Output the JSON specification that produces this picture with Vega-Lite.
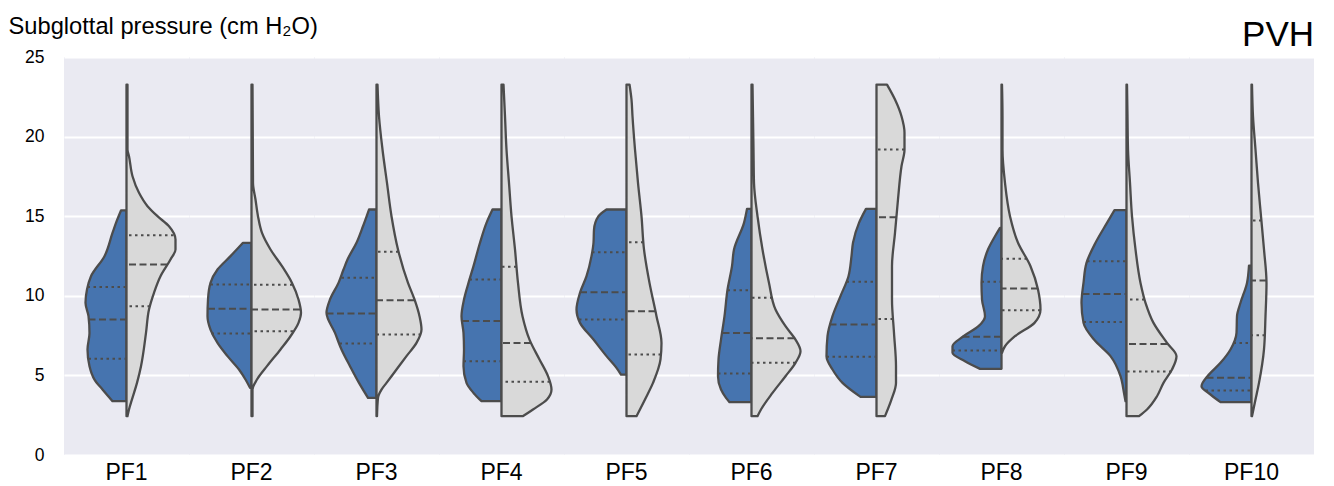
{
  "$schema": "https://vega.github.io/schema/vega-lite/v6.json",
  "padding": {"left": 8, "top": 14, "right": 17, "bottom": 5},
  "title": {"text": "PVH", "anchor": "end", "fontSize": 35, "fontWeight": "normal", "font": "Liberation Sans", "color": "black", "offset": -39},
  "data": {"values": [
    {"k":"o","pf":"PF1","s":"L","v":3.38,"w":0.28},{"k":"o","pf":"PF1","s":"L","v":4.11,"w":0.48},{"k":"o","pf":"PF1","s":"L","v":4.74,"w":0.64},{"k":"o","pf":"PF1","s":"L","v":5.58,"w":0.74},{"k":"o","pf":"PF1","s":"L","v":6.63,"w":0.78},{"k":"o","pf":"PF1","s":"L","v":7.67,"w":0.74},{"k":"o","pf":"PF1","s":"L","v":8.72,"w":0.76},{"k":"o","pf":"PF1","s":"L","v":9.56,"w":0.82},{"k":"o","pf":"PF1","s":"L","v":10.39,"w":0.79},{"k":"o","pf":"PF1","s":"L","v":11.23,"w":0.71},{"k":"o","pf":"PF1","s":"L","v":12.49,"w":0.44},{"k":"o","pf":"PF1","s":"L","v":13.95,"w":0.28},{"k":"o","pf":"PF1","s":"L","v":14.58,"w":0.21},{"k":"o","pf":"PF1","s":"L","v":15.36,"w":0.11},
    {"k":"o","pf":"PF1","s":"R","v":2.44,"w":0.02},{"k":"o","pf":"PF1","s":"R","v":2.86,"w":0.05},{"k":"o","pf":"PF1","s":"R","v":3.49,"w":0.11},{"k":"o","pf":"PF1","s":"R","v":4.53,"w":0.21},{"k":"o","pf":"PF1","s":"R","v":5.58,"w":0.29},{"k":"o","pf":"PF1","s":"R","v":7.67,"w":0.39},{"k":"o","pf":"PF1","s":"R","v":9.14,"w":0.45},{"k":"o","pf":"PF1","s":"R","v":10.19,"w":0.55},{"k":"o","pf":"PF1","s":"R","v":11.23,"w":0.68},{"k":"o","pf":"PF1","s":"R","v":12.28,"w":0.88},{"k":"o","pf":"PF1","s":"R","v":12.91,"w":0.98},{"k":"o","pf":"PF1","s":"R","v":13.54,"w":0.98},{"k":"o","pf":"PF1","s":"R","v":14.37,"w":0.85},{"k":"o","pf":"PF1","s":"R","v":15.0,"w":0.62},{"k":"o","pf":"PF1","s":"R","v":15.63,"w":0.42},{"k":"o","pf":"PF1","s":"R","v":16.47,"w":0.25},{"k":"o","pf":"PF1","s":"R","v":17.51,"w":0.12},{"k":"o","pf":"PF1","s":"R","v":18.77,"w":0.05},{"k":"o","pf":"PF1","s":"R","v":19.19,"w":0.02},{"k":"o","pf":"PF1","s":"R","v":23.27,"w":0.02},
    {"k":"q","pf":"PF1","s":"L","v":10.56,"w":0.78},{"k":"m","pf":"PF1","s":"L","v":8.51,"w":0.76},{"k":"q","pf":"PF1","s":"L","v":6.04,"w":0.76},
    {"k":"q","pf":"PF1","s":"R","v":13.81,"w":0.94},{"k":"m","pf":"PF1","s":"R","v":11.97,"w":0.82},{"k":"q","pf":"PF1","s":"R","v":9.35,"w":0.47},

    {"k":"o","pf":"PF2","s":"L","v":4.22,"w":0.03},{"k":"o","pf":"PF2","s":"L","v":4.74,"w":0.12},{"k":"o","pf":"PF2","s":"L","v":5.37,"w":0.25},{"k":"o","pf":"PF2","s":"L","v":6.21,"w":0.48},{"k":"o","pf":"PF2","s":"L","v":7.04,"w":0.68},{"k":"o","pf":"PF2","s":"L","v":7.88,"w":0.82},{"k":"o","pf":"PF2","s":"L","v":8.72,"w":0.88},{"k":"o","pf":"PF2","s":"L","v":9.77,"w":0.87},{"k":"o","pf":"PF2","s":"L","v":10.81,"w":0.82},{"k":"o","pf":"PF2","s":"L","v":11.65,"w":0.68},{"k":"o","pf":"PF2","s":"L","v":12.49,"w":0.42},{"k":"o","pf":"PF2","s":"L","v":13.33,"w":0.17},
    {"k":"o","pf":"PF2","s":"R","v":2.44,"w":0.02},{"k":"o","pf":"PF2","s":"R","v":4.11,"w":0.02},{"k":"o","pf":"PF2","s":"R","v":4.74,"w":0.11},{"k":"o","pf":"PF2","s":"R","v":5.58,"w":0.31},{"k":"o","pf":"PF2","s":"R","v":6.63,"w":0.58},{"k":"o","pf":"PF2","s":"R","v":7.46,"w":0.78},{"k":"o","pf":"PF2","s":"R","v":8.3,"w":0.94},{"k":"o","pf":"PF2","s":"R","v":8.93,"w":0.99},{"k":"o","pf":"PF2","s":"R","v":9.77,"w":0.94},{"k":"o","pf":"PF2","s":"R","v":10.81,"w":0.81},{"k":"o","pf":"PF2","s":"R","v":11.86,"w":0.61},{"k":"o","pf":"PF2","s":"R","v":12.91,"w":0.38},{"k":"o","pf":"PF2","s":"R","v":13.95,"w":0.21},{"k":"o","pf":"PF2","s":"R","v":15.0,"w":0.13},{"k":"o","pf":"PF2","s":"R","v":16.05,"w":0.08},{"k":"o","pf":"PF2","s":"R","v":17.09,"w":0.03},{"k":"o","pf":"PF2","s":"R","v":23.27,"w":0.02},
    {"k":"q","pf":"PF2","s":"L","v":10.71,"w":0.82},{"k":"m","pf":"PF2","s":"L","v":9.18,"w":0.87},{"k":"q","pf":"PF2","s":"L","v":7.63,"w":0.8},
    {"k":"q","pf":"PF2","s":"R","v":10.69,"w":0.82},{"k":"m","pf":"PF2","s":"R","v":9.14,"w":0.97},{"k":"q","pf":"PF2","s":"R","v":7.78,"w":0.83},

    {"k":"o","pf":"PF3","s":"L","v":3.59,"w":0.17},{"k":"o","pf":"PF3","s":"L","v":4.53,"w":0.35},{"k":"o","pf":"PF3","s":"L","v":5.58,"w":0.53},{"k":"o","pf":"PF3","s":"L","v":6.63,"w":0.7},{"k":"o","pf":"PF3","s":"L","v":7.67,"w":0.83},{"k":"o","pf":"PF3","s":"L","v":8.93,"w":1.0},{"k":"o","pf":"PF3","s":"L","v":9.77,"w":0.93},{"k":"o","pf":"PF3","s":"L","v":10.81,"w":0.76},{"k":"o","pf":"PF3","s":"L","v":11.65,"w":0.66},{"k":"o","pf":"PF3","s":"L","v":12.28,"w":0.58},{"k":"o","pf":"PF3","s":"L","v":13.33,"w":0.4},{"k":"o","pf":"PF3","s":"L","v":14.37,"w":0.27},{"k":"o","pf":"PF3","s":"L","v":15.42,"w":0.15},
    {"k":"o","pf":"PF3","s":"R","v":2.44,"w":0.01},{"k":"o","pf":"PF3","s":"R","v":3.59,"w":0.03},{"k":"o","pf":"PF3","s":"R","v":4.11,"w":0.1},{"k":"o","pf":"PF3","s":"R","v":4.53,"w":0.2},{"k":"o","pf":"PF3","s":"R","v":5.37,"w":0.4},{"k":"o","pf":"PF3","s":"R","v":6.21,"w":0.6},{"k":"o","pf":"PF3","s":"R","v":7.04,"w":0.8},{"k":"o","pf":"PF3","s":"R","v":7.88,"w":0.9},{"k":"o","pf":"PF3","s":"R","v":8.72,"w":0.86},{"k":"o","pf":"PF3","s":"R","v":9.77,"w":0.76},{"k":"o","pf":"PF3","s":"R","v":10.81,"w":0.63},{"k":"o","pf":"PF3","s":"R","v":12.91,"w":0.43},{"k":"o","pf":"PF3","s":"R","v":15.0,"w":0.3},{"k":"o","pf":"PF3","s":"R","v":17.09,"w":0.21},{"k":"o","pf":"PF3","s":"R","v":19.19,"w":0.12},{"k":"o","pf":"PF3","s":"R","v":21.28,"w":0.05},{"k":"o","pf":"PF3","s":"R","v":23.27,"w":0.02},
    {"k":"q","pf":"PF3","s":"L","v":11.13,"w":0.7},{"k":"m","pf":"PF3","s":"L","v":8.89,"w":1.0},{"k":"q","pf":"PF3","s":"L","v":7.0,"w":0.74},
    {"k":"q","pf":"PF3","s":"R","v":12.76,"w":0.44},{"k":"m","pf":"PF3","s":"R","v":9.72,"w":0.76},{"k":"q","pf":"PF3","s":"R","v":7.57,"w":0.89},

    {"k":"o","pf":"PF4","s":"L","v":3.38,"w":0.4},{"k":"o","pf":"PF4","s":"L","v":3.9,"w":0.56},{"k":"o","pf":"PF4","s":"L","v":4.53,"w":0.7},{"k":"o","pf":"PF4","s":"L","v":5.58,"w":0.76},{"k":"o","pf":"PF4","s":"L","v":6.63,"w":0.75},{"k":"o","pf":"PF4","s":"L","v":7.67,"w":0.76},{"k":"o","pf":"PF4","s":"L","v":8.72,"w":0.8},{"k":"o","pf":"PF4","s":"L","v":9.77,"w":0.75},{"k":"o","pf":"PF4","s":"L","v":10.81,"w":0.66},{"k":"o","pf":"PF4","s":"L","v":11.86,"w":0.56},{"k":"o","pf":"PF4","s":"L","v":13.33,"w":0.43},{"k":"o","pf":"PF4","s":"L","v":14.58,"w":0.3},{"k":"o","pf":"PF4","s":"L","v":15.42,"w":0.18},
    {"k":"o","pf":"PF4","s":"R","v":2.44,"w":0.43},{"k":"o","pf":"PF4","s":"R","v":2.86,"w":0.63},{"k":"o","pf":"PF4","s":"R","v":3.49,"w":0.91},{"k":"o","pf":"PF4","s":"R","v":4.11,"w":1.0},{"k":"o","pf":"PF4","s":"R","v":4.95,"w":0.93},{"k":"o","pf":"PF4","s":"R","v":6.0,"w":0.76},{"k":"o","pf":"PF4","s":"R","v":7.25,"w":0.56},{"k":"o","pf":"PF4","s":"R","v":8.72,"w":0.42},{"k":"o","pf":"PF4","s":"R","v":10.81,"w":0.33},{"k":"o","pf":"PF4","s":"R","v":12.91,"w":0.27},{"k":"o","pf":"PF4","s":"R","v":15.0,"w":0.2},{"k":"o","pf":"PF4","s":"R","v":17.09,"w":0.15},{"k":"o","pf":"PF4","s":"R","v":19.19,"w":0.1},{"k":"o","pf":"PF4","s":"R","v":21.28,"w":0.07},{"k":"o","pf":"PF4","s":"R","v":23.27,"w":0.04},
    {"k":"q","pf":"PF4","s":"L","v":11.02,"w":0.64},{"k":"m","pf":"PF4","s":"L","v":8.41,"w":0.79},{"k":"q","pf":"PF4","s":"L","v":5.89,"w":0.76},
    {"k":"q","pf":"PF4","s":"R","v":11.82,"w":0.3},{"k":"m","pf":"PF4","s":"R","v":7.04,"w":0.59},{"k":"q","pf":"PF4","s":"R","v":4.6,"w":0.97},

    {"k":"o","pf":"PF5","s":"L","v":5.05,"w":0.11},{"k":"o","pf":"PF5","s":"L","v":5.47,"w":0.2},{"k":"o","pf":"PF5","s":"L","v":6.21,"w":0.4},{"k":"o","pf":"PF5","s":"L","v":7.25,"w":0.66},{"k":"o","pf":"PF5","s":"L","v":8.3,"w":0.93},{"k":"o","pf":"PF5","s":"L","v":9.14,"w":1.0},{"k":"o","pf":"PF5","s":"L","v":10.19,"w":0.93},{"k":"o","pf":"PF5","s":"L","v":11.23,"w":0.8},{"k":"o","pf":"PF5","s":"L","v":12.49,"w":0.7},{"k":"o","pf":"PF5","s":"L","v":13.33,"w":0.66},{"k":"o","pf":"PF5","s":"L","v":14.16,"w":0.65},{"k":"o","pf":"PF5","s":"L","v":15.0,"w":0.56},{"k":"o","pf":"PF5","s":"L","v":15.42,"w":0.4},
    {"k":"o","pf":"PF5","s":"R","v":2.44,"w":0.2},{"k":"o","pf":"PF5","s":"R","v":3.49,"w":0.37},{"k":"o","pf":"PF5","s":"R","v":4.53,"w":0.53},{"k":"o","pf":"PF5","s":"R","v":6.0,"w":0.68},{"k":"o","pf":"PF5","s":"R","v":7.04,"w":0.7},{"k":"o","pf":"PF5","s":"R","v":8.72,"w":0.6},{"k":"o","pf":"PF5","s":"R","v":10.81,"w":0.46},{"k":"o","pf":"PF5","s":"R","v":12.91,"w":0.35},{"k":"o","pf":"PF5","s":"R","v":15.0,"w":0.3},{"k":"o","pf":"PF5","s":"R","v":17.09,"w":0.23},{"k":"o","pf":"PF5","s":"R","v":19.19,"w":0.17},{"k":"o","pf":"PF5","s":"R","v":21.28,"w":0.12},{"k":"o","pf":"PF5","s":"R","v":22.33,"w":0.1},{"k":"o","pf":"PF5","s":"R","v":23.27,"w":0.06},
    {"k":"q","pf":"PF5","s":"L","v":12.74,"w":0.69},{"k":"m","pf":"PF5","s":"L","v":10.23,"w":0.93},{"k":"q","pf":"PF5","s":"L","v":8.51,"w":0.95},
    {"k":"q","pf":"PF5","s":"R","v":13.37,"w":0.34},{"k":"m","pf":"PF5","s":"R","v":9.03,"w":0.58},{"k":"q","pf":"PF5","s":"R","v":6.31,"w":0.69},

    {"k":"o","pf":"PF6","s":"L","v":3.32,"w":0.44},{"k":"o","pf":"PF6","s":"L","v":3.59,"w":0.51},{"k":"o","pf":"PF6","s":"L","v":4.11,"w":0.61},{"k":"o","pf":"PF6","s":"L","v":4.95,"w":0.67},{"k":"o","pf":"PF6","s":"L","v":6.0,"w":0.66},{"k":"o","pf":"PF6","s":"L","v":7.25,"w":0.61},{"k":"o","pf":"PF6","s":"L","v":8.72,"w":0.54},{"k":"o","pf":"PF6","s":"L","v":10.39,"w":0.48},{"k":"o","pf":"PF6","s":"L","v":11.86,"w":0.39},{"k":"o","pf":"PF6","s":"L","v":12.91,"w":0.35},{"k":"o","pf":"PF6","s":"L","v":14.58,"w":0.15},{"k":"o","pf":"PF6","s":"L","v":15.46,"w":0.09},
    {"k":"o","pf":"PF6","s":"R","v":2.44,"w":0.12},{"k":"o","pf":"PF6","s":"R","v":2.86,"w":0.19},{"k":"o","pf":"PF6","s":"R","v":3.9,"w":0.42},{"k":"o","pf":"PF6","s":"R","v":4.95,"w":0.68},{"k":"o","pf":"PF6","s":"R","v":5.79,"w":0.88},{"k":"o","pf":"PF6","s":"R","v":6.52,"w":0.98},{"k":"o","pf":"PF6","s":"R","v":7.25,"w":0.88},{"k":"o","pf":"PF6","s":"R","v":8.09,"w":0.68},{"k":"o","pf":"PF6","s":"R","v":9.14,"w":0.48},{"k":"o","pf":"PF6","s":"R","v":10.81,"w":0.35},{"k":"o","pf":"PF6","s":"R","v":12.91,"w":0.22},{"k":"o","pf":"PF6","s":"R","v":15.0,"w":0.12},{"k":"o","pf":"PF6","s":"R","v":17.09,"w":0.05},{"k":"o","pf":"PF6","s":"R","v":19.19,"w":0.04},{"k":"o","pf":"PF6","s":"R","v":21.28,"w":0.03},{"k":"o","pf":"PF6","s":"R","v":23.27,"w":0.02},
    {"k":"q","pf":"PF6","s":"L","v":10.35,"w":0.48},{"k":"m","pf":"PF6","s":"L","v":7.67,"w":0.58},{"k":"q","pf":"PF6","s":"L","v":5.12,"w":0.67},
    {"k":"q","pf":"PF6","s":"R","v":9.87,"w":0.42},{"k":"m","pf":"PF6","s":"R","v":7.34,"w":0.86},{"k":"q","pf":"PF6","s":"R","v":5.79,"w":0.88},

    {"k":"o","pf":"PF7","s":"L","v":3.65,"w":0.32},{"k":"o","pf":"PF7","s":"L","v":4.53,"w":0.68},{"k":"o","pf":"PF7","s":"L","v":5.37,"w":0.88},{"k":"o","pf":"PF7","s":"L","v":6.21,"w":1.0},{"k":"o","pf":"PF7","s":"L","v":7.46,"w":0.98},{"k":"o","pf":"PF7","s":"L","v":8.72,"w":0.88},{"k":"o","pf":"PF7","s":"L","v":9.98,"w":0.72},{"k":"o","pf":"PF7","s":"L","v":11.23,"w":0.56},{"k":"o","pf":"PF7","s":"L","v":12.49,"w":0.5},{"k":"o","pf":"PF7","s":"L","v":13.33,"w":0.47},{"k":"o","pf":"PF7","s":"L","v":14.58,"w":0.35},{"k":"o","pf":"PF7","s":"L","v":15.46,"w":0.21},
    {"k":"o","pf":"PF7","s":"R","v":2.44,"w":0.17},{"k":"o","pf":"PF7","s":"R","v":3.49,"w":0.3},{"k":"o","pf":"PF7","s":"R","v":4.53,"w":0.39},{"k":"o","pf":"PF7","s":"R","v":5.58,"w":0.39},{"k":"o","pf":"PF7","s":"R","v":7.67,"w":0.35},{"k":"o","pf":"PF7","s":"R","v":9.77,"w":0.31},{"k":"o","pf":"PF7","s":"R","v":11.86,"w":0.31},{"k":"o","pf":"PF7","s":"R","v":13.95,"w":0.37},{"k":"o","pf":"PF7","s":"R","v":16.05,"w":0.43},{"k":"o","pf":"PF7","s":"R","v":18.14,"w":0.5},{"k":"o","pf":"PF7","s":"R","v":19.19,"w":0.56},{"k":"o","pf":"PF7","s":"R","v":20.24,"w":0.56},{"k":"o","pf":"PF7","s":"R","v":21.28,"w":0.5},{"k":"o","pf":"PF7","s":"R","v":22.33,"w":0.37},{"k":"o","pf":"PF7","s":"R","v":23.27,"w":0.21},
    {"k":"q","pf":"PF7","s":"L","v":10.88,"w":0.6},{"k":"m","pf":"PF7","s":"L","v":8.2,"w":0.94},{"k":"q","pf":"PF7","s":"L","v":6.17,"w":1.0},
    {"k":"q","pf":"PF7","s":"R","v":19.19,"w":0.56},{"k":"m","pf":"PF7","s":"R","v":14.94,"w":0.4},{"k":"q","pf":"PF7","s":"R","v":8.55,"w":0.33},

    {"k":"o","pf":"PF8","s":"L","v":5.41,"w":0.43},{"k":"o","pf":"PF8","s":"L","v":5.89,"w":0.73},{"k":"o","pf":"PF8","s":"L","v":6.42,"w":0.98},{"k":"o","pf":"PF8","s":"L","v":6.83,"w":0.98},{"k":"o","pf":"PF8","s":"L","v":7.46,"w":0.76},{"k":"o","pf":"PF8","s":"L","v":8.09,"w":0.46},{"k":"o","pf":"PF8","s":"L","v":8.72,"w":0.33},{"k":"o","pf":"PF8","s":"L","v":9.77,"w":0.39},{"k":"o","pf":"PF8","s":"L","v":10.81,"w":0.4},{"k":"o","pf":"PF8","s":"L","v":11.86,"w":0.37},{"k":"o","pf":"PF8","s":"L","v":12.91,"w":0.27},{"k":"o","pf":"PF8","s":"L","v":13.74,"w":0.13},{"k":"o","pf":"PF8","s":"L","v":14.27,"w":0.03},
    {"k":"o","pf":"PF8","s":"R","v":6.42,"w":0.01},{"k":"o","pf":"PF8","s":"R","v":6.83,"w":0.07},{"k":"o","pf":"PF8","s":"R","v":7.46,"w":0.27},{"k":"o","pf":"PF8","s":"R","v":8.3,"w":0.66},{"k":"o","pf":"PF8","s":"R","v":9.14,"w":0.78},{"k":"o","pf":"PF8","s":"R","v":10.39,"w":0.73},{"k":"o","pf":"PF8","s":"R","v":11.86,"w":0.58},{"k":"o","pf":"PF8","s":"R","v":13.33,"w":0.33},{"k":"o","pf":"PF8","s":"R","v":15.0,"w":0.17},{"k":"o","pf":"PF8","s":"R","v":17.09,"w":0.07},{"k":"o","pf":"PF8","s":"R","v":19.19,"w":0.02},{"k":"o","pf":"PF8","s":"R","v":21.28,"w":0.02},{"k":"o","pf":"PF8","s":"R","v":23.27,"w":0.01},
    {"k":"q","pf":"PF8","s":"L","v":10.88,"w":0.4},{"k":"m","pf":"PF8","s":"L","v":7.42,"w":0.78},{"k":"q","pf":"PF8","s":"L","v":6.56,"w":0.98},
    {"k":"q","pf":"PF8","s":"R","v":12.32,"w":0.51},{"k":"m","pf":"PF8","s":"R","v":10.46,"w":0.73},{"k":"q","pf":"PF8","s":"R","v":9.1,"w":0.78},

    {"k":"o","pf":"PF9","s":"L","v":3.38,"w":0.02},{"k":"o","pf":"PF9","s":"L","v":3.9,"w":0.05},{"k":"o","pf":"PF9","s":"L","v":4.95,"w":0.12},{"k":"o","pf":"PF9","s":"L","v":6.21,"w":0.32},{"k":"o","pf":"PF9","s":"L","v":7.25,"w":0.65},{"k":"o","pf":"PF9","s":"L","v":8.3,"w":0.86},{"k":"o","pf":"PF9","s":"L","v":9.56,"w":0.9},{"k":"o","pf":"PF9","s":"L","v":10.81,"w":0.86},{"k":"o","pf":"PF9","s":"L","v":12.07,"w":0.8},{"k":"o","pf":"PF9","s":"L","v":13.33,"w":0.62},{"k":"o","pf":"PF9","s":"L","v":14.58,"w":0.39},{"k":"o","pf":"PF9","s":"L","v":15.38,"w":0.24},
    {"k":"o","pf":"PF9","s":"R","v":2.44,"w":0.25},{"k":"o","pf":"PF9","s":"R","v":2.86,"w":0.41},{"k":"o","pf":"PF9","s":"R","v":3.69,"w":0.61},{"k":"o","pf":"PF9","s":"R","v":4.53,"w":0.74},{"k":"o","pf":"PF9","s":"R","v":5.37,"w":0.91},{"k":"o","pf":"PF9","s":"R","v":6.21,"w":1.0},{"k":"o","pf":"PF9","s":"R","v":7.04,"w":0.81},{"k":"o","pf":"PF9","s":"R","v":8.3,"w":0.54},{"k":"o","pf":"PF9","s":"R","v":9.56,"w":0.38},{"k":"o","pf":"PF9","s":"R","v":10.81,"w":0.28},{"k":"o","pf":"PF9","s":"R","v":12.91,"w":0.18},{"k":"o","pf":"PF9","s":"R","v":15.0,"w":0.11},{"k":"o","pf":"PF9","s":"R","v":17.09,"w":0.07},{"k":"o","pf":"PF9","s":"R","v":19.19,"w":0.03},{"k":"o","pf":"PF9","s":"R","v":21.28,"w":0.02},{"k":"o","pf":"PF9","s":"R","v":23.27,"w":0.01},
    {"k":"q","pf":"PF9","s":"L","v":12.17,"w":0.79},{"k":"m","pf":"PF9","s":"L","v":10.12,"w":0.88},{"k":"q","pf":"PF9","s":"L","v":8.36,"w":0.86},
    {"k":"q","pf":"PF9","s":"R","v":9.77,"w":0.36},{"k":"m","pf":"PF9","s":"R","v":6.98,"w":0.82},{"k":"q","pf":"PF9","s":"R","v":5.24,"w":0.9},

    {"k":"o","pf":"PF10","s":"L","v":3.32,"w":0.62},{"k":"o","pf":"PF10","s":"L","v":3.8,"w":0.82},{"k":"o","pf":"PF10","s":"L","v":4.32,"w":1.0},{"k":"o","pf":"PF10","s":"L","v":4.95,"w":0.88},{"k":"o","pf":"PF10","s":"L","v":5.79,"w":0.62},{"k":"o","pf":"PF10","s":"L","v":6.63,"w":0.42},{"k":"o","pf":"PF10","s":"L","v":7.67,"w":0.3},{"k":"o","pf":"PF10","s":"L","v":8.72,"w":0.29},{"k":"o","pf":"PF10","s":"L","v":9.56,"w":0.22},{"k":"o","pf":"PF10","s":"L","v":10.81,"w":0.09},{"k":"o","pf":"PF10","s":"L","v":11.9,"w":0.05},
    {"k":"o","pf":"PF10","s":"R","v":2.44,"w":0.01},{"k":"o","pf":"PF10","s":"R","v":3.49,"w":0.08},{"k":"o","pf":"PF10","s":"R","v":4.53,"w":0.15},{"k":"o","pf":"PF10","s":"R","v":6.63,"w":0.25},{"k":"o","pf":"PF10","s":"R","v":8.72,"w":0.28},{"k":"o","pf":"PF10","s":"R","v":10.81,"w":0.3},{"k":"o","pf":"PF10","s":"R","v":12.91,"w":0.25},{"k":"o","pf":"PF10","s":"R","v":15.0,"w":0.19},{"k":"o","pf":"PF10","s":"R","v":17.09,"w":0.13},{"k":"o","pf":"PF10","s":"R","v":19.19,"w":0.08},{"k":"o","pf":"PF10","s":"R","v":21.28,"w":0.03},{"k":"o","pf":"PF10","s":"R","v":23.27,"w":0.01},
    {"k":"q","pf":"PF10","s":"L","v":7.04,"w":0.36},{"k":"m","pf":"PF10","s":"L","v":4.85,"w":0.9},{"k":"q","pf":"PF10","s":"L","v":4.05,"w":0.92},
    {"k":"q","pf":"PF10","s":"R","v":14.73,"w":0.2},{"k":"m","pf":"PF10","s":"R","v":10.96,"w":0.3},{"k":"q","pf":"PF10","s":"R","v":7.52,"w":0.27}
  ]},
  "facet": {
    "column": {
      "field": "pf", "type": "nominal",
      "sort": ["PF1","PF2","PF3","PF4","PF5","PF6","PF7","PF8","PF9","PF10"],
      "title": null,
      "header": {"labelOrient": "bottom", "labelFontSize": 23, "labelFont": "Liberation Sans", "labelColor": "black", "labelPadding": 7}
    }
  },
  "spacing": 0,
  "spec": {
    "width": 125,
    "height": 398,
    "layer": [
      {
        "transform": [{"filter": "datum.k == 'o' && datum.s == 'L'"}],
        "mark": {"type": "area", "orient": "horizontal", "interpolate": "monotone", "fill": "#4674AF", "fillOpacity": 1, "stroke": "#4C4C4C", "strokeWidth": 2.3, "strokeJoin": "round"},
        "encoding": {
          "y": {"field": "v", "type": "quantitative", "scale": {"domain": [0, 25], "nice": false, "zero": false},
            "axis": {"title": "Subglottal pressure (cm H₂O)", "values": [0,5,10,15,20,25], "ticks": false, "domain": false,
              "labelFontSize": 17.5, "labelFont": "Liberation Sans", "labelColor": "black", "labelPadding": 20, "labelFlush": false,
              "grid": true, "gridColor": "white", "gridWidth": 1.8, "gridOpacity": 1,
              "titleAngle": 0, "titleAlign": "left", "titleBaseline": "alphabetic", "titleX": -56, "titleY": -24,
              "titleFontSize": 23.7, "titleFontWeight": "normal", "titleFont": "Liberation Sans", "titleColor": "black"}},
          "x": {"field": "w", "type": "quantitative", "scale": {"domain": [-1.25, 1.25], "reverse": true, "nice": false, "zero": false}, "axis": null},
          "x2": {"datum": 0}
        }
      },
      {
        "transform": [{"filter": "datum.k == 'o' && datum.s == 'R'"}],
        "mark": {"type": "area", "orient": "horizontal", "interpolate": "monotone", "fill": "#D9D9D9", "fillOpacity": 1, "stroke": "#4C4C4C", "strokeWidth": 2.3, "strokeJoin": "round"},
        "encoding": {
          "y": {"field": "v", "type": "quantitative"},
          "x": {"field": "w", "type": "quantitative", "scale": {"domain": [-1.25, 1.25], "nice": false, "zero": false}, "axis": null},
          "x2": {"datum": 0}
        }
      },
      {
        "transform": [{"filter": "datum.k != 'o' && datum.s == 'L'"}],
        "mark": {"type": "rule", "stroke": "#4C4C4C", "strokeWidth": 2},
        "encoding": {
          "y": {"field": "v", "type": "quantitative"},
          "x": {"field": "w", "type": "quantitative", "scale": {"domain": [-1.25, 1.25], "reverse": true, "nice": false, "zero": false}, "axis": null},
          "x2": {"datum": 0},
          "strokeDash": {"field": "k", "type": "nominal", "scale": {"domain": ["m", "q"], "range": [[7, 3.5], [2.5, 3.5]]}, "legend": null}
        }
      },
      {
        "transform": [{"filter": "datum.k != 'o' && datum.s == 'R'"}],
        "mark": {"type": "rule", "stroke": "#4C4C4C", "strokeWidth": 2},
        "encoding": {
          "y": {"field": "v", "type": "quantitative"},
          "x": {"field": "w", "type": "quantitative", "scale": {"domain": [-1.25, 1.25], "nice": false, "zero": false}, "axis": null},
          "x2": {"datum": 0},
          "strokeDash": {"field": "k", "type": "nominal", "scale": {"domain": ["m", "q"], "range": [[7, 3.5], [2.5, 3.5]]}, "legend": null}
        }
      }
    ],
    "resolve": {"scale": {"x": "independent"}}
  },
  "config": {
    "view": {"fill": "#EAEAF2", "stroke": null},
    "font": "Liberation Sans",
    "background": "white"
  }
}
